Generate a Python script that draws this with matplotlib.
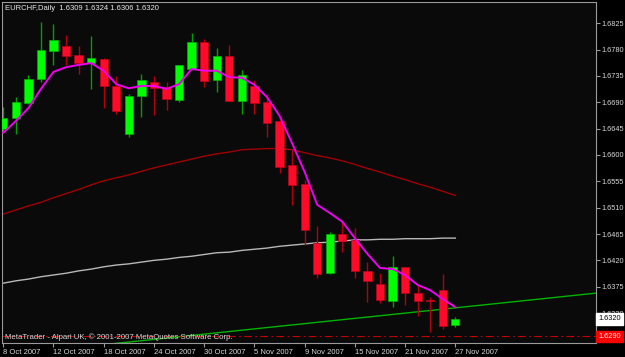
import numpy as np
import matplotlib
matplotlib.use('Agg')
import matplotlib.pyplot as plt

#-------------- Data (EURCHF daily, 8 Oct - 27 Nov 2007) ---------------------------

opens  = [1.6644, 1.6663, 1.6689, 1.6730, 1.6778, 1.6787, 1.6771, 1.6757, 1.6764, 1.6718,
          1.6636, 1.6701, 1.6725, 1.6717, 1.6694, 1.6747, 1.6793, 1.6728, 1.6769, 1.6693,
          1.6718, 1.6691, 1.6658, 1.6583, 1.6550, 1.6449, 1.6398, 1.6465, 1.6455, 1.6402,
          1.6379, 1.6351, 1.6408, 1.6365, 1.6352, 1.6369, 1.6309]
highs  = [1.6682, 1.6699, 1.6736, 1.6828, 1.6823, 1.6805, 1.6786, 1.6804, 1.6765, 1.6735,
          1.6705, 1.6738, 1.6735, 1.6725, 1.6754, 1.6809, 1.6798, 1.6783, 1.6788, 1.6746,
          1.6728, 1.6704, 1.6659, 1.6611, 1.6557, 1.6478, 1.6468, 1.6488, 1.6475, 1.6417,
          1.6398, 1.6428, 1.6409, 1.6378, 1.6357, 1.6396, 1.6324]
lows   = [1.6641, 1.6636, 1.6687, 1.6725, 1.6754, 1.6754, 1.6738, 1.6712, 1.6680, 1.6670,
          1.6631, 1.6665, 1.6669, 1.6677, 1.6691, 1.6746, 1.6717, 1.6708, 1.6692, 1.6670,
          1.6670, 1.6631, 1.6569, 1.6515, 1.6446, 1.6389, 1.6397, 1.6435, 1.6389, 1.6348,
          1.6347, 1.6340, 1.6344, 1.6325, 1.6298, 1.6302, 1.6306]
closes = [1.6664, 1.6690, 1.6729, 1.6780, 1.6796, 1.6769, 1.6757, 1.6765, 1.6718, 1.6675,
          1.6701, 1.6728, 1.6714, 1.6696, 1.6753, 1.6793, 1.6727, 1.6769, 1.6693, 1.6737,
          1.6689, 1.6655, 1.6580, 1.6548, 1.6472, 1.6397, 1.6465, 1.6453, 1.6402, 1.6385,
          1.6352, 1.6409, 1.6365, 1.6350, 1.6350, 1.6308, 1.6320]

ma_fast = [1.6638, 1.6658, 1.6680, 1.6713, 1.6742, 1.6750, 1.6754, 1.6757, 1.6744, 1.6721,
           1.6714, 1.6718, 1.6718, 1.6713, 1.6721, 1.6747, 1.6744, 1.6744, 1.6733, 1.6732,
           1.6720, 1.6699, 1.6667, 1.6620, 1.6571, 1.6515, 1.6501, 1.6486, 1.6458, 1.6431,
           1.6407, 1.6405, 1.6395, 1.6378, 1.6369, 1.6354, 1.6340]
ma_mid  = [1.6499, 1.6506, 1.6513, 1.6519, 1.6527, 1.6534, 1.6541, 1.6549, 1.6556, 1.6561,
           1.6566, 1.6572, 1.6578, 1.6583, 1.6588, 1.6593, 1.6598, 1.6602, 1.6605, 1.6609,
           1.6610, 1.6611, 1.6611, 1.6609, 1.6604, 1.6599, 1.6595, 1.6590, 1.6584, 1.6577,
           1.6571, 1.6564, 1.6558, 1.6551, 1.6545, 1.6538, 1.6531]
ma_slow = [1.6381, 1.6385, 1.6388, 1.6392, 1.6395, 1.6398, 1.6402, 1.6405, 1.6409, 1.6412,
           1.6414, 1.6417, 1.6420, 1.6422, 1.6425, 1.6427, 1.6430, 1.6433, 1.6434, 1.6437,
           1.6439, 1.6441, 1.6444, 1.6446, 1.6448, 1.6450, 1.6451, 1.6453, 1.6455, 1.6455,
           1.6456, 1.6456, 1.6457, 1.6457, 1.6457, 1.6458, 1.6458]

trend_x = [8.9, 47.2]
trend_y = [1.6278, 1.6364]

ask_level = 1.6290

date_pos    = [0, 4, 8, 12, 16, 20, 24, 28, 32, 36]
date_labels = ['8 Oct 2007', '12 Oct 2007', '18 Oct 2007', '24 Oct 2007', '30 Oct 2007',
               '5 Nov 2007', '9 Nov 2007', '15 Nov 2007', '21 Nov 2007', '27 Nov 2007']

price_ticks = ['1.6825', '1.6780', '1.6735', '1.6690', '1.6645', '1.6600', '1.6555',
               '1.6510', '1.6465', '1.6420', '1.6375', '1.6330', '1.6285']

#-------------- Plot ----------------------------------------------------------------

plt.rcParams['font.family'] = ['Liberation Sans', 'DejaVu Sans']

fig = plt.figure(figsize=(6.25, 3.57), dpi=100, facecolor='#000000')
ax = fig.add_axes([2/625, 14/357, 594/625, 341/357])
ax.set_facecolor('#0a0a0a')

o = np.array(opens); h = np.array(highs); l = np.array(lows); c = np.array(closes)
x = np.arange(len(o))
up = c >= o

# wicks
ax.vlines(x[up], l[up], h[up], colors='#00a000', lw=1.0, zorder=2)
ax.vlines(x[~up], l[~up], h[~up], colors='#b00010', lw=1.0, zorder=2)

# bodies
body_h = np.maximum(np.abs(c - o), 0.00012)
ax.bar(x[up], body_h[up], bottom=np.minimum(o, c)[up], width=0.66,
       color='#00ff00', edgecolor='#00b000', lw=0.5, zorder=3)
ax.bar(x[~up], body_h[~up], bottom=np.minimum(o, c)[~up], width=0.66,
       color='#ff0a28', edgecolor='#c00018', lw=0.5, zorder=3)

# moving averages
ax.plot(x, ma_slow, color='#b8b8b8', lw=1.0, zorder=1)
ax.plot(x, ma_mid, color='#a00000', lw=1.0, zorder=1)
ax.plot(x, ma_fast, color='#ee00ee', lw=1.4, zorder=4)

# trendline and ask level
ax.plot(trend_x, trend_y, color='#00b400', lw=1.0, zorder=1)
ax.axhline(ask_level, color='#c00000', lw=0.8, ls=(0, (7, 3, 1.5, 3)), zorder=1)

ax.set_xlim(-0.1, 47.2)
ax.set_ylim(1.62788, 1.68614)

# axes styling
for s in ax.spines.values():
    s.set_color('#9a9a9a')
    s.set_linewidth(0.8)

ax.yaxis.tick_right()
ax.set_yticks([float(t) for t in price_ticks])
ax.set_yticklabels(price_ticks)
ax.set_xticks(date_pos)
ax.set_xticklabels(date_labels, ha='left')
ax.tick_params(axis='y', colors='#9a9a9a', labelcolor='#d8d8d8', length=3, width=0.8,
               pad=1.0, labelsize=5.3)
ax.tick_params(axis='x', colors='#9a9a9a', labelcolor='#d8d8d8', length=3, width=0.8,
               pad=1.5, labelsize=5.5)

# price tags
ax.annotate(f'{closes[-1]:.4f}', xy=(1.004, closes[-1]), xycoords=('axes fraction', 'data'),
            va='center', ha='left', fontsize=5.3, color='#000000', annotation_clip=False,
            bbox=dict(boxstyle='square,pad=0.3', fc='#ffffff', ec='#ffffff'), zorder=6)
ax.annotate(f'{ask_level:.4f}', xy=(1.004, ask_level), xycoords=('axes fraction', 'data'),
            va='center', ha='left', fontsize=5.3, color='#ffffff', annotation_clip=False,
            bbox=dict(boxstyle='square,pad=0.3', fc='#ff0000', ec='#ff0000'), zorder=6)

# texts
fig.text(5/625, 1 - 8/357, 'EURCHF,Daily  1.6309 1.6324 1.6306 1.6320',
         color='#e8e8e8', fontsize=5.5, va='center', ha='left')
fig.text(5/625, 1 - 337/357, 'MetaTrader - Alpari UK, \u00a9 2001-2007 MetaQuotes Software Corp.',
         color='#d8d8d8', fontsize=5.6, va='center', ha='left')

plt.savefig('out.png', dpi=100, facecolor=fig.get_facecolor())
plt.close('all')
